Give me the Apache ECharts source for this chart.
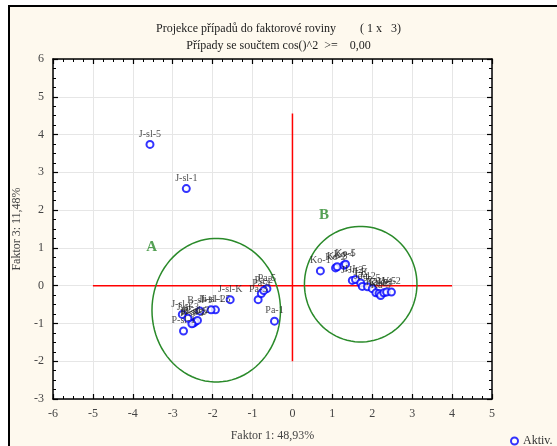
<!DOCTYPE html>
<html><head><meta charset="utf-8">
<script src="https://cdn.jsdelivr.net/npm/echarts@6/dist/echarts.min.js"></script>
<style>html,body{margin:0;padding:0;background:#fff}#c{width:557px;height:446px}</style>
</head><body><div id="c"></div>
<script>
var titleText = 'Projekce případů do faktorové roviny        ( 1 x   3)';
var subText = 'Případy se součtem cos()^2  >=    0,00';
var xName = 'Faktor 1: 48,93%';
var yName = 'Faktor 3: 11,48%';
var seriesName = 'Aktiv.';
// cases: [factor1, factor3, label]
var leftCases = [
  [-3.57, 3.74, 'J-sl-5'],
  [-2.66, 2.57, 'J-sl-1'],
  [-1.56, -0.37, 'J-sl-K'],
  [-0.86, -0.37, 'Pa-3'],
  [-0.78, -0.21, 'Pa-4'],
  [-0.64, -0.08, 'Pa-5'],
  [-0.72, -0.13, 'Pa-2'],
  [-0.45, -0.94, 'Pa-1'],
  [-1.93, -0.64, 'Ji-sl-25'],
  [-2.04, -0.64, 'Ji-sl-1'],
  [-2.32, -0.67, 'B-sl-1'],
  [-2.76, -0.76, 'J-sl-2'],
  [-2.73, -1.20, 'P-sl-1'],
  [-2.48, -0.99, 'B-sl-2'],
  [-2.44, -0.96, 'B-sl-5'],
  [-2.38, -0.92, 'P-sl-2'],
  [-2.52, -1.01, 'P-sl-5'],
  [-2.62, -0.86, 'J-sl-3']
];
var rightCases = [
  [0.70, 0.39, 'Ko-1'],
  [1.08, 0.47, 'Ko-2'],
  [1.12, 0.50, 'Ko-3'],
  [1.29, 0.54, 'Ko-4'],
  [1.33, 0.57, 'Ko-5'],
  [1.50, 0.14, 'J-Jr-2'],
  [1.58, 0.16, 'J-Jr-5'],
  [1.71, 0.07, 'J-K'],
  [1.75, -0.02, 'Je-1'],
  [1.88, -0.03, 'Je-2'],
  [2.00, -0.08, 'Je-5'],
  [2.09, -0.19, 'Ka-1'],
  [2.17, -0.21, 'Ka-2'],
  [2.21, -0.26, 'Ka-5'],
  [2.29, -0.19, 'Ve-1'],
  [2.36, -0.17, 'Ve-5'],
  [2.48, -0.17, 'Ve-2']
];
// group ellipses: [cx, cy, rx, ry]
var ellipses = [[-1.91, -0.65, 1.61, 1.9], [1.71, 0.04, 1.41, 1.53]];
var groupLabels = [[-3.53, 1.03, 'A'], [0.79, 1.87, 'B']];
var redH = [[-5, 0], [4, 0]];
var redV = [[0, -2], [0, 4.56]];
var xTicks = {min: -6, max: 5, interval: 1};
var yTicks = {min: -3, max: 6, interval: 1};

var serif = '"Liberation Serif", "DejaVu Serif", serif';
var chart = echarts.init(document.getElementById('c'));

function mkAxis(t, pos, labels, name, isY) {
  var a = {
    type: 'value', min: t.min, max: t.max, interval: t.interval, position: pos,
    axisLine: {show: true, onZero: false, lineStyle: {color: '#000', width: 1.5}},
    axisTick: {show: true, inside: true, length: 5, lineStyle: {color: '#000', width: 1.2}},
    minorTick: {show: true, splitNumber: 4, length: 3, lineStyle: {color: '#000', width: 1}},
    axisLabel: {show: labels, color: '#444', fontFamily: serif, fontSize: 12, margin: 9},
    splitLine: {show: labels, lineStyle: {color: '#e6e6e6', width: 1}}
  };
  if (name) {
    a.name = name; a.nameLocation = 'middle';
    a.nameTextStyle = {color: '#444', fontFamily: serif, fontSize: 12};
    if (isY) { a.nameGap = 30; a.nameRotate = 90; } else { a.nameGap = 31; }
  }
  return a;
}

var allCases = leftCases.concat(rightCases);

chart.setOption({
  backgroundColor: '#ffffff',
  animation: false,
  graphic: [{
    type: 'rect', z: -10, silent: true,
    shape: {x: 9, y: 6, width: 600, height: 500},
    style: {fill: '#fef9ee', stroke: '#000', lineWidth: 2}
  }],
  title: {
    text: titleText, subtext: subText, left: 'center', top: 18, itemGap: 5,
    textStyle: {fontFamily: serif, fontSize: 12, fontWeight: 'normal', color: '#222'},
    subtextStyle: {fontFamily: serif, fontSize: 12, color: '#222'}
  },
  legend: {
    data: [{name: seriesName, icon: 'emptyCircle'}],
    left: 505, top: 430, itemWidth: 7, itemHeight: 7, itemGap: 4,
    itemStyle: {borderWidth: 1.6},
    textStyle: {fontFamily: serif, fontSize: 12, color: '#333'}
  },
  grid: {left: 53, right: 65, top: 59, bottom: 47, outerBoundsMode: 'none', containLabel: false,
    show: true, backgroundColor: '#fff', borderColor: '#000', borderWidth: 0},
  xAxis: [mkAxis(xTicks, 'bottom', true, xName, false), mkAxis(xTicks, 'top', false, null, false)],
  yAxis: [mkAxis(yTicks, 'left', true, yName, true), mkAxis(yTicks, 'right', false, null, true)],
  series: [
    {type: 'line', data: redH, symbol: 'none', silent: true, lineStyle: {color: '#ff0000', width: 1.5}, z: 2},
    {type: 'line', data: redV, symbol: 'none', silent: true, lineStyle: {color: '#ff0000', width: 1.5}, z: 2},
    {
      type: 'custom', data: ellipses, silent: true, z: 3,
      renderItem: function (params, api) {
        var cx = api.value(0), cy = api.value(1), rx = api.value(2), ry = api.value(3);
        var pts = [];
        for (var i = 0; i <= 90; i++) {
          var t = i / 90 * Math.PI * 2;
          pts.push(api.coord([cx + rx * Math.cos(t), cy + ry * Math.sin(t)]));
        }
        return {type: 'polygon', shape: {points: pts}, style: {fill: 'none', stroke: '#2a8a2a', lineWidth: 1.5}};
      }
    },
    {
      type: 'scatter', data: groupLabels, symbolSize: 0, silent: true, z: 4,
      label: {show: true, position: 'inside', formatter: function (p) { return p.value[2]; },
        fontFamily: serif, fontSize: 15, fontWeight: 'bold', color: '#2a8a2a'}
    },
    {
      name: seriesName, type: 'scatter', data: allCases, symbol: 'emptyCircle', symbolSize: 7, z: 5,
      itemStyle: {color: '#0000ff', borderColor: '#0000ff', borderWidth: 1.6},
      label: {show: true, position: 'top', distance: 1, formatter: function (p) { return p.value[2]; },
        fontFamily: serif, fontSize: 10, color: '#222'}
    }
  ]
});
</script></body></html>
